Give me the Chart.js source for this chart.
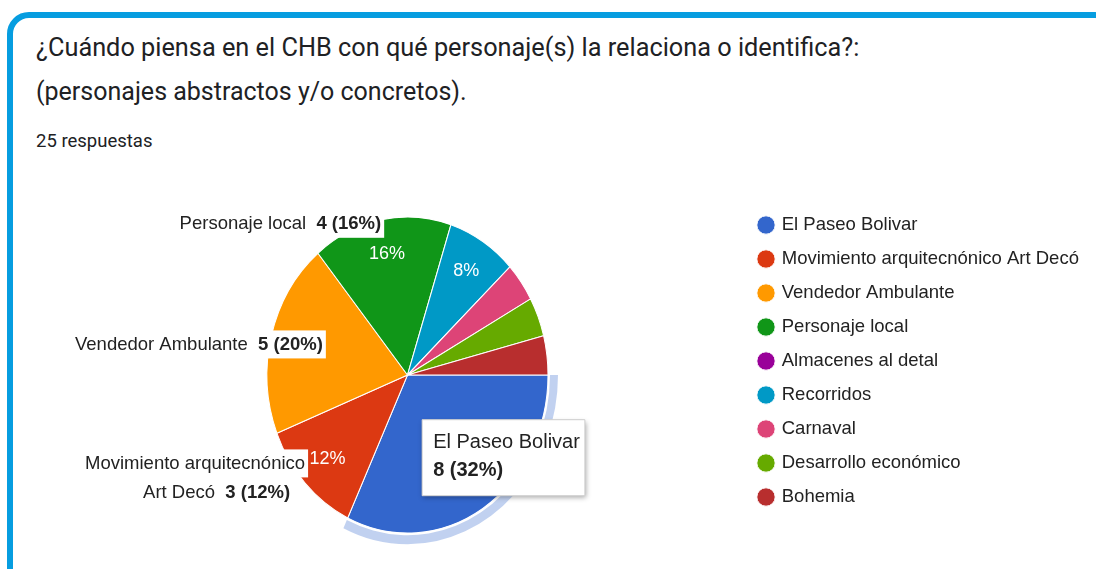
<!DOCTYPE html>
<html>
<head>
<meta charset="utf-8">
<script src="https://cdn.jsdelivr.net/npm/chart.js@4.4.0/dist/chart.umd.min.js"></script>
<style>
  html, body { margin:0; padding:0; background:#fff; width:1096px; height:569px; overflow:hidden; }
  #card { position:absolute; left:7px; top:12px; width:1110px; height:580px; border:6px solid #069de0; border-radius:22px; box-sizing:border-box; }
  .t { position:absolute; left:36px; font-family: Roboto, "Liberation Sans", Arial, sans-serif; color:#202124; white-space:nowrap; line-height:1.2; }
  #t1 { top:33px; font-size:25.3px; }
  #t2 { top:77px; font-size:25px; }
  #t3 { top:130px; font-size:18.5px; }
  canvas { position:absolute; left:0; top:0; }
</style>
</head>
<body>
<div id="card"></div>
<div class="t" id="t1">¿Cuándo piensa en el CHB con qué personaje(s) la relaciona o identifica?:</div>
<div class="t" id="t2">(personajes abstractos y/o concretos).</div>
<div class="t" id="t3">25 respuestas</div>
<canvas id="c" width="1096" height="569"></canvas>
<script>
const categories = ["El Paseo Bolivar", "Movimiento arquitecnónico Art Decó", "Vendedor Ambulante", "Personaje local", "Almacenes al detal", "Recorridos", "Carnaval", "Desarrollo económico", "Bohemia"];
const counts = [8, 3, 5, 4, 0, 2, 1, 1, 1];
const sliceColors = ["#3366cc", "#dc3912", "#ff9900", "#109618", "#990099", "#0099c6", "#dd4477", "#66aa00", "#b82e2e"];
const outsideLabelLines = { 3: ["Personaje local"], 2: ["Vendedor Ambulante"], 1: ["Movimiento arquitecnónico", "Art Decó"] };

const FONT = '"Liberation Sans", Arial, sans-serif';
const LEG_SIZE = 18.5;
const LEG_PAD = 15.5;
const BOX = 13;
const PIE_SY = 1.1246; // vertical stretch of the pie in the reference
const total = counts.reduce((a, b) => a + b, 0);
const pct = v => Math.round(v / total * 100);

// Measure longest legend label to place legend
const mctx = document.createElement('canvas').getContext('2d');
mctx.font = LEG_SIZE + 'px ' + FONT;
const maxTW = Math.max(...categories.map(c => mctx.measureText(c).width));
const legendW = LEG_PAD + BOX + LEG_SIZE / 2 + maxTW + 10;
const legendLeft = 744;
const padRight = Math.max(0, 1096 - legendLeft - legendW);

Chart.Tooltip.positioners.googleBox = function (elements) {
  if (!elements.length) return false;
  const el = elements[0].element;
  const p = el.tooltipPosition(true);
  const yy = el.y + (p.y - el.y) * PIE_SY;
  return { x: p.x - 23, y: yy - 22, xAlign: 'left', yAlign: 'top' };
};

function sp(a, ang, rad) {
  return { x: a.x + Math.cos(ang) * rad, y: a.y + Math.sin(ang) * rad * PIE_SY };
}

const slicePlugin = {
  id: 'sliceText',
  beforeDatasetsDraw(chart) {
    const meta = chart.getDatasetMeta(0);
    const a = meta.data[0];
    const ctx = chart.ctx;
    ctx.save();
    ctx.translate(a.x, a.y);
    ctx.scale(1, PIE_SY);
    ctx.translate(-a.x, -a.y);
  },
  afterDatasetsDraw(chart, args, opts) {
    const ctx = chart.ctx;
    const meta = chart.getDatasetMeta(0);
    // halo around highlighted slice (still inside the pie transform)
    const h = meta.data[opts.highlight].getProps(['x', 'y', 'startAngle', 'endAngle', 'outerRadius'], true);
    ctx.beginPath();
    ctx.arc(h.x, h.y, h.outerRadius + 10, h.startAngle, h.endAngle);
    ctx.arc(h.x, h.y, h.outerRadius + 2, h.endAngle, h.startAngle, true);
    ctx.closePath();
    ctx.fillStyle = 'rgba(51,102,204,0.3)';
    ctx.fill();
    ctx.restore();

    // inside percentage labels
    ctx.save();
    ctx.font = '18px ' + FONT;
    ctx.fillStyle = '#ffffff';
    ctx.textAlign = 'center';
    ctx.textBaseline = 'middle';
    meta.data.forEach((arc, i) => {
      const p = pct(counts[i]);
      if (p < 5) return;
      const a = arc.getProps(['x', 'y', 'startAngle', 'endAngle', 'outerRadius'], true);
      const pt = sp(a, (a.startAngle + a.endAngle) / 2, a.outerRadius * 0.78);
      ctx.fillText(p + '%', pt.x, pt.y);
    });
    ctx.restore();

    // outside labels with white boxes
    ctx.save();
    ctx.textBaseline = 'middle';
    const LF = '18.5px ' + FONT, LFB = 'bold 18.5px ' + FONT;
    opts.outside.forEach(o => {
      const a = meta.data[o.index].getProps(['x', 'y', 'startAngle', 'endAngle', 'outerRadius'], true);
      const pt = sp(a, (a.startAngle + a.endAngle) / 2, a.outerRadius * o.k);
      const lines = outsideLabelLines[o.index];
      const valueText = counts[o.index] + ' (' + pct(counts[o.index]) + '%)';
      const n = lines.length;
      const lh = 29.5;
      lines.forEach((ln, j) => {
        const ly = pt.y + o.dy + (j - (n - 1) / 2) * lh;
        const last = j === n - 1;
        ctx.font = LF;
        const w1 = ctx.measureText(ln + (last ? '  ' : '')).width;
        ctx.font = LFB;
        const w2 = last ? ctx.measureText(valueText).width : 0;
        const right = pt.x + (o.dx ? o.dx[j] : 0);
        const left = right - w1 - w2;
        ctx.fillStyle = '#ffffff';
        ctx.fillRect(left - 3, ly - 14, w1 + w2 + 6, 28);
        ctx.fillStyle = '#222222';
        ctx.textAlign = 'left';
        ctx.font = LF;
        ctx.fillText(ln, left, ly);
        if (last) {
          ctx.font = LFB;
          ctx.fillText(valueText, left + w1, ly);
        }
      });
    });
    ctx.restore();
  },
  beforeTooltipDraw(chart, args) {
    const t = args.tooltip;
    const ctx = chart.ctx;
    ctx.save();
    ctx.shadowColor = 'rgba(0,0,0,0.35)';
    ctx.shadowBlur = 5;
    ctx.shadowOffsetX = 1;
    ctx.shadowOffsetY = 2;
    ctx.fillStyle = '#ffffff';
    ctx.fillRect(t.x, t.y, t.width, t.height);
    ctx.restore();
  }
};

const chart = new Chart(document.getElementById('c'), {
  type: 'pie',
  data: {
    labels: categories,
    datasets: [{
      data: counts,
      backgroundColor: sliceColors,
      hoverBackgroundColor: sliceColors,
      borderColor: '#ffffff',
      hoverBorderColor: '#ffffff',
      borderWidth: 1,
      hoverOffset: 0
    }]
  },
  options: {
    responsive: false,
    animation: false,
    events: [],
    rotation: 90,
    radius: 140.5,
    layout: { padding: { left: 71, top: 200.25, bottom: 19.25, right: padRight } },
    plugins: {
      legend: {
        position: 'right',
        align: 'start',
        labels: {
          usePointStyle: true,
          pointStyle: 'circle',
          boxWidth: BOX,
          boxHeight: BOX,
          padding: LEG_PAD,
          color: '#222222',
          font: { family: FONT, size: LEG_SIZE }
        }
      },
      tooltip: {
        enabled: true,
        position: 'googleBox',
        backgroundColor: '#ffffff',
        borderColor: '#cccccc',
        borderWidth: 1,
        titleColor: '#222222',
        bodyColor: '#222222',
        titleFont: { family: FONT, size: 20, weight: 'normal' },
        bodyFont: { family: FONT, size: 20, weight: 'bold' },
        padding: { left: 11, right: 5, top: 11, bottom: 13 },
        cornerRadius: 0,
        caretSize: 0,
        caretPadding: 0,
        displayColors: false,
        titleMarginBottom: 4,
        callbacks: {
          title: items => items[0].label,
          label: item => counts[item.dataIndex] + ' (' + pct(counts[item.dataIndex]) + '%)'
        }
      },
      sliceText: {
        highlight: 0,
        outside: [
          { index: 3, k: 1.0, dy: 4 },
          { index: 2, k: 0.6, dy: -7, dx: [-3] },
          { index: 1, k: 1.0, dy: -5, dx: [0, -15] }
        ]
      }
    }
  },
  plugins: [slicePlugin]
});
chart.tooltip.setActiveElements([{ datasetIndex: 0, index: 0 }], { x: 0, y: 0 });
chart.update();
</script>
</body>
</html>
